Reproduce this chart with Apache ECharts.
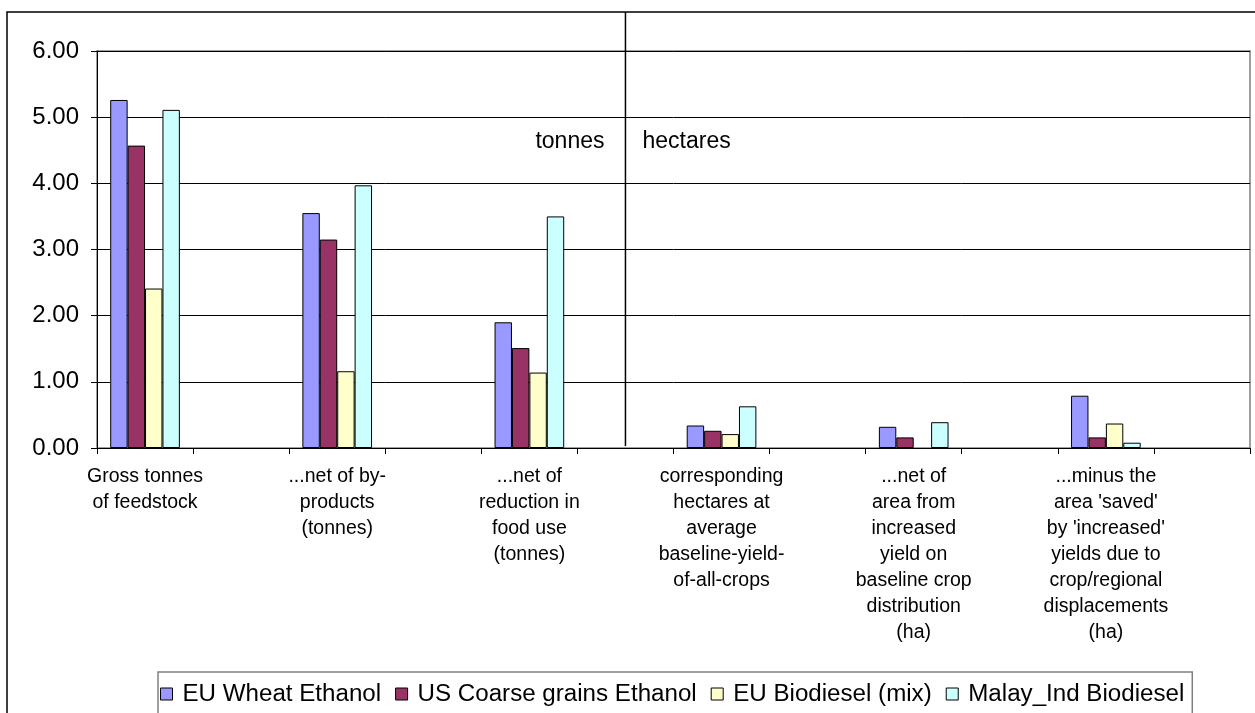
<!DOCTYPE html>
<html><head><meta charset="utf-8">
<script src="https://cdn.jsdelivr.net/npm/echarts@6/dist/echarts.min.js"></script>
<style>html,body{margin:0;padding:0;background:#fff}#c{width:1255px;height:713px}</style>
</head><body><div id="c"></div>
<script>
// ---- data ----
const categories = [
  "Gross tonnes\nof feedstock",
  "...net of by-\nproducts\n(tonnes)",
  "...net of\nreduction in\nfood use\n(tonnes)",
  "corresponding\nhectares at\naverage\nbaseline-yield-\nof-all-crops",
  "...net of\narea from\nincreased\nyield on\nbaseline crop\ndistribution\n(ha)",
  "...minus the\narea 'saved'\nby 'increased'\nyields due to\ncrop/regional\ndisplacements\n(ha)"
];
const seriesNames = ["EU Wheat Ethanol", "US Coarse grains Ethanol", "EU Biodiesel (mix)", "Malay_Ind Biodiesel"];
const euWheatEthanol        = [5.26, 3.55, 1.90, 0.34, 0.32, 0.79];
const usCoarseGrainsEthanol = [4.57, 3.15, 1.51, 0.26, 0.16, 0.16];
const euBiodieselMix        = [2.41, 1.16, 1.14, 0.21, null, 0.37];
const malayIndBiodiesel     = [5.11, 3.97, 3.50, 0.63, 0.39, 0.08];
const yMin = 0, yMax = 6, yStep = 1;
const unitLabels = ["tonnes", "hectares"];

// ---- build (each data category followed by an empty spacer category) ----
function spread(arr) { const out = []; arr.forEach(v => { out.push(v); out.push(null); }); return out; }
const xCats = []; categories.forEach(c => { xCats.push(c); xCats.push(""); });
const colors = ["#9999FF", "#993366", "#FFFFCC", "#CCFFFF"];
const values = [euWheatEthanol, usCoarseGrainsEthanol, euBiodieselMix, malayIndBiodiesel];
const FONT = "'Liberation Sans', Arial, sans-serif";

const chart = echarts.init(document.getElementById('c'), null, { renderer: 'canvas' });
chart.setOption({
  animation: false,
  backgroundColor: '#fff',
  textStyle: { fontFamily: FONT, color: '#000' },
  grid: { left: 97, right: 5, top: 51, bottom: 265, show: true, borderColor: '#808080', borderWidth: 1.5 },
  legend: {
    left: 158, top: 672,
    itemWidth: 12, itemHeight: 12, itemGap: 14,
    padding: [10, 8, 40, 2],
    borderColor: '#808080', borderWidth: 1.5,
    icon: 'rect',
    textStyle: { fontFamily: FONT, fontSize: 24.15, color: '#000', padding: [0, 0, 0, 5] },
    data: seriesNames.map((n, i) => ({ name: n, itemStyle: { color: colors[i], borderColor: '#000', borderWidth: 1 } }))
  },
  xAxis: {
    type: 'category', data: xCats,
    axisLine: { lineStyle: { color: '#000', width: 1 } },
    axisTick: { show: true, length: 6, lineStyle: { color: '#000' } },
    axisLabel: { interval: 0, fontFamily: FONT, fontSize: 19.5, lineHeight: 26, color: '#000', margin: 16, align: 'center' },
    splitLine: { show: false }
  },
  yAxis: {
    type: 'value', min: yMin, max: yMax, interval: yStep,
    axisLine: { show: true, lineStyle: { color: '#000', width: 1 } },
    axisTick: { show: true, length: 6, lineStyle: { color: '#000' } },
    axisLabel: { fontFamily: FONT, fontSize: 24, color: '#000', margin: 18, formatter: v => v.toFixed(2) },
    splitLine: { show: true, lineStyle: { color: '#000', width: 1 } }
  },
  series: values.map((arr, i) => ({
    name: seriesNames[i], type: 'bar', data: spread(arr),
    barGap: '0%', barCategoryGap: '27.5%',
    itemStyle: { color: colors[i], borderColor: '#000', borderWidth: 1 }
  }))
});

const sepX = chart.convertToPixel({ xAxisIndex: 0 }, 5);
const y5 = chart.convertToPixel({ yAxisIndex: 0 }, 5);
const y0 = chart.convertToPixel({ yAxisIndex: 0 }, 0);
chart.setOption({
  graphic: [
    { type: 'rect', silent: true, shape: { x: 7, y: 12, width: 1300, height: 800 }, style: { fill: 'none', stroke: '#000', lineWidth: 1.5 }, z: 100 },
    { type: 'line', silent: true, shape: { x1: sepX, y1: 12, x2: sepX, y2: y0 - 2 }, style: { stroke: '#000', lineWidth: 1.5 }, z: 100 },
    { type: 'text', silent: true, x: sepX - 21, y: y5 + 24, style: { text: unitLabels[0], font: "23px " + FONT, fill: '#000', textAlign: 'right', textVerticalAlign: 'middle' }, z: 100 },
    { type: 'text', silent: true, x: sepX + 17, y: y5 + 24, style: { text: unitLabels[1], font: "23px " + FONT, fill: '#000', textAlign: 'left', textVerticalAlign: 'middle' }, z: 100 }
  ]
});
</script></body></html>
